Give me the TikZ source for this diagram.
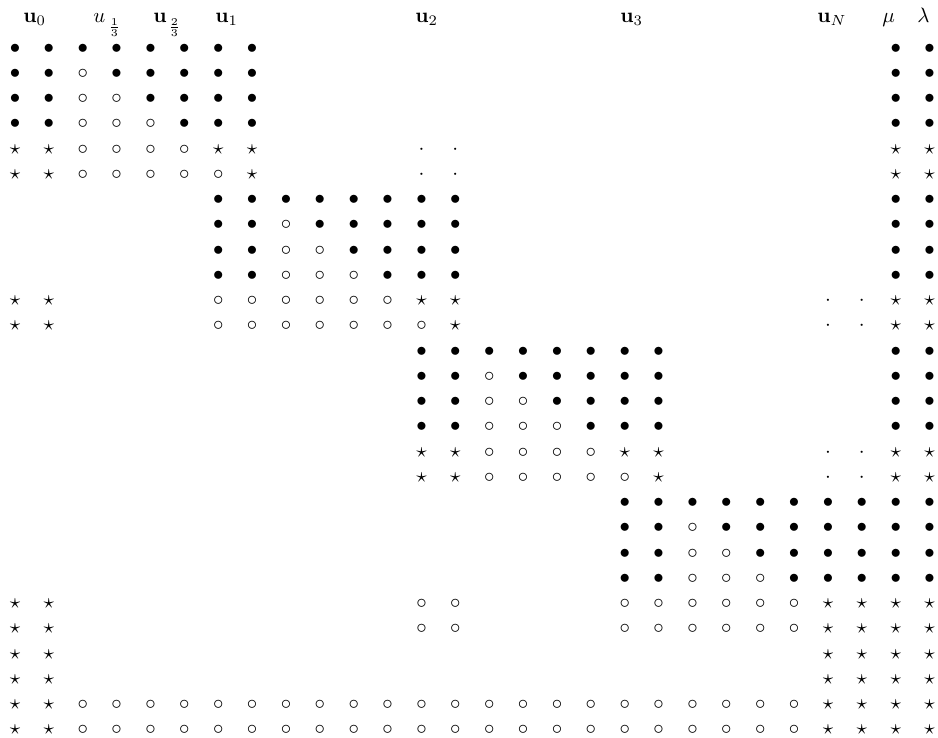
\documentclass[tikz,border=0pt]{standalone}
\usepackage{amsmath,amssymb}
\usepackage{tikz}
\usetikzlibrary{matrix}

\begin{document}
\begin{tikzpicture}[
    x=0.48pt, y=-0.48pt,
    cell/.style={inner sep=0pt, outer sep=0pt, minimum width=16.26pt,
                 text height=5pt, text depth=0pt},
    head/.style={inner sep=0pt, anchor=base west},
  ]
  \useasboundingbox (0,0) rectangle (938,737);
  % Column labels
  \node[head] (h0) at (23,22)  {$\mathbf{u}_0$};
  \node[head] (h1) at (93,22)  {$u_{\kern1.5pt\raisebox{-3pt}{$\scriptstyle\frac{1}{3}$}}$};
  \node[head] (h2) at (153,22) {$\mathbf{u}_{\kern0.8pt\raisebox{-3pt}{$\scriptstyle\frac{2}{3}$}}$};
  \node[head] (h3) at (215,22) {$\mathbf{u}_1$};
  \node[head] (h4) at (415,22) {$\mathbf{u}_2$};
  \node[head] (h5) at (620,22) {$\mathbf{u}_3$};
  \node[head] (h6) at (817,22) {$\mathbf{u}_N$};
  \node[head] (h7) at (882,22) {$\mu$};
  \node[head] (h8) at (917,22) {$\lambda$};
  % Sparsity pattern
  \matrix (m) [matrix of math nodes, anchor=north west, inner sep=0pt, outer sep=0pt,
               column sep=0pt, row sep=7.12pt, nodes={cell}] at (-1.94,42.79) {
    \bullet & \bullet & \bullet & \bullet & \bullet & \bullet & \bullet & \bullet &&&&& &&&&& &&&&& &&&& \bullet & \bullet \\
    \bullet & \bullet & \circ & \bullet & \bullet & \bullet & \bullet & \bullet &&&&& &&&&& &&&&& &&&& \bullet & \bullet \\
    \bullet & \bullet & \circ & \circ & \bullet & \bullet & \bullet & \bullet &&&&& &&&&& &&&&& &&&& \bullet & \bullet \\
    \bullet & \bullet & \circ & \circ & \circ & \bullet & \bullet & \bullet &&&&& &&&&& &&&&& &&&& \bullet & \bullet \\
    \star & \star & \circ & \circ & \circ & \circ & \star & \star &&&&& \cdot & \cdot &&&&& &&&&& &&& \star & \star \\
    \star & \star & \circ & \circ & \circ & \circ & \circ & \star &&&&& \cdot & \cdot &&&&& &&&&& &&& \star & \star \\
    &&&&&& \bullet & \bullet & \bullet & \bullet & \bullet & \bullet & \bullet & \bullet &&&&& &&&&& &&& \bullet & \bullet \\
    &&&&&& \bullet & \bullet & \circ & \bullet & \bullet & \bullet & \bullet & \bullet &&&&& &&&&& &&& \bullet & \bullet \\
    &&&&&& \bullet & \bullet & \circ & \circ & \bullet & \bullet & \bullet & \bullet &&&&& &&&&& &&& \bullet & \bullet \\
    &&&&&& \bullet & \bullet & \circ & \circ & \circ & \bullet & \bullet & \bullet &&&&& &&&&& &&& \bullet & \bullet \\
    \star & \star &&&&& \circ & \circ & \circ & \circ & \circ & \circ & \star & \star &&&&& &&&&& & \cdot & \cdot & \star & \star \\
    \star & \star &&&&& \circ & \circ & \circ & \circ & \circ & \circ & \circ & \star &&&&& &&&&& & \cdot & \cdot & \star & \star \\
    &&&&&& &&&&&& \bullet & \bullet & \bullet & \bullet & \bullet & \bullet & \bullet & \bullet &&&&& && \bullet & \bullet \\
    &&&&&& &&&&&& \bullet & \bullet & \circ & \bullet & \bullet & \bullet & \bullet & \bullet &&&&& && \bullet & \bullet \\
    &&&&&& &&&&&& \bullet & \bullet & \circ & \circ & \bullet & \bullet & \bullet & \bullet &&&&& && \bullet & \bullet \\
    &&&&&& &&&&&& \bullet & \bullet & \circ & \circ & \circ & \bullet & \bullet & \bullet &&&&& && \bullet & \bullet \\
    &&&&&& &&&&&& \star & \star & \circ & \circ & \circ & \circ & \star & \star &&&&& \cdot & \cdot & \star & \star \\
    &&&&&& &&&&&& \star & \star & \circ & \circ & \circ & \circ & \circ & \star &&&&& \cdot & \cdot & \star & \star \\
    &&&&&& &&&&&& &&&&&& \bullet & \bullet & \bullet & \bullet & \bullet & \bullet & \bullet & \bullet & \bullet & \bullet \\
    &&&&&& &&&&&& &&&&&& \bullet & \bullet & \circ & \bullet & \bullet & \bullet & \bullet & \bullet & \bullet & \bullet \\
    &&&&&& &&&&&& &&&&&& \bullet & \bullet & \circ & \circ & \bullet & \bullet & \bullet & \bullet & \bullet & \bullet \\
    &&&&&& &&&&&& &&&&&& \bullet & \bullet & \circ & \circ & \circ & \bullet & \bullet & \bullet & \bullet & \bullet \\
    \star & \star &&&&& &&&&&& \circ & \circ &&&&& \circ & \circ & \circ & \circ & \circ & \circ & \star & \star & \star & \star \\
    \star & \star &&&&& &&&&&& \circ & \circ &&&&& \circ & \circ & \circ & \circ & \circ & \circ & \star & \star & \star & \star \\
    \star & \star &&&&& &&&&& &&&&& &&&&& &&& \star & \star & \star & \star \\
    \star & \star &&&&& &&&&& &&&&& &&&&& &&& \star & \star & \star & \star \\
    \star & \star & \circ & \circ & \circ & \circ & \circ & \circ & \circ & \circ & \circ & \circ & \circ & \circ & \circ & \circ & \circ & \circ & \circ & \circ & \circ & \circ & \circ & \circ & \star & \star & \star & \star \\
    \star & \star & \circ & \circ & \circ & \circ & \circ & \circ & \circ & \circ & \circ & \circ & \circ & \circ & \circ & \circ & \circ & \circ & \circ & \circ & \circ & \circ & \circ & \circ & \star & \star & \star & \star \\
  };
\end{tikzpicture}
\end{document}
